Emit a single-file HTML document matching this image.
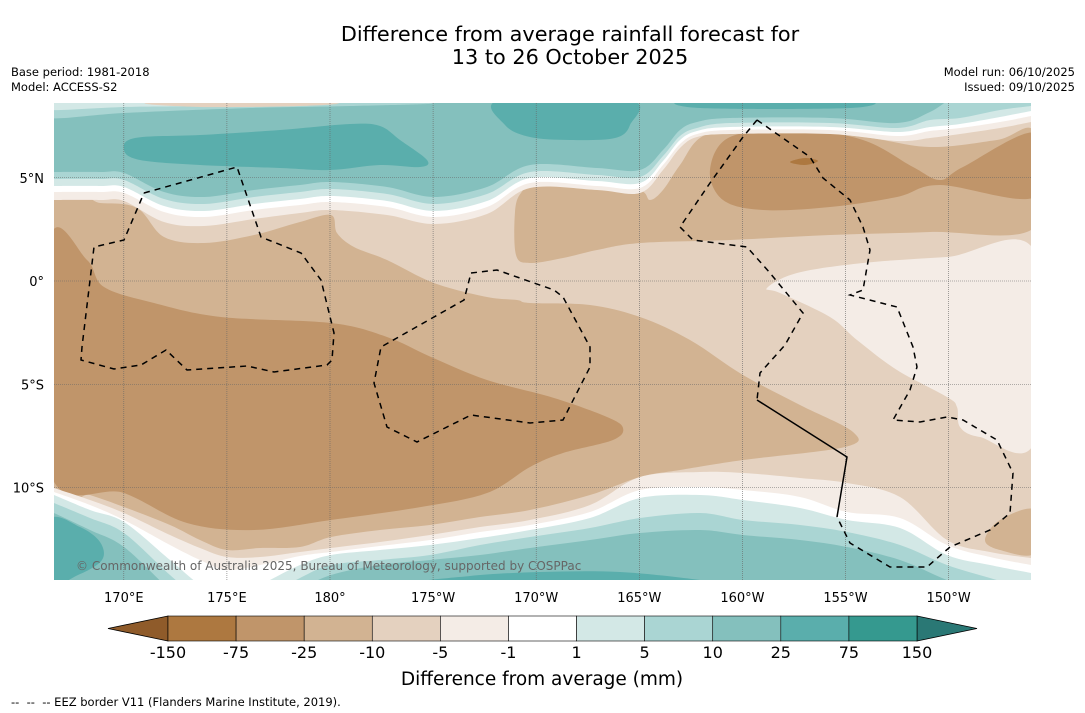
<!DOCTYPE html>
<html><head><meta charset="utf-8"><style>
html,body{margin:0;padding:0;background:#fff;width:1085px;height:713px;overflow:hidden;font-family:"Liberation Sans","DejaVu Sans",sans-serif}
svg text{font-family:"DejaVu Sans","Liberation Sans",sans-serif}
</style></head><body>
<svg id="chart" width="1085" height="713" xmlns="http://www.w3.org/2000/svg">
<rect width="1085" height="713" fill="#fff"/>
<text x="570" y="41" font-size="20.8" text-anchor="middle" fill="#000">Difference from average rainfall forecast for</text>
<text x="570" y="64" font-size="20.8" text-anchor="middle" fill="#000">13 to 26 October 2025</text>
<text x="11" y="76" font-size="11.5">Base period: 1981-2018</text>
<text x="11" y="91" font-size="11.5">Model: ACCESS-S2</text>
<text x="1075" y="76" font-size="11.5" text-anchor="end">Model run: 06/10/2025</text>
<text x="1075" y="91" font-size="11.5" text-anchor="end">Issued: 09/10/2025</text>
<defs><clipPath id="mapclip"><rect x="54" y="103" width="977" height="477"/></clipPath></defs>
<g id="map" clip-path="url(#mapclip)"></g>
<g id="axes"></g>
<g id="cbar"></g>
<text x="542" y="685" font-size="18.5" text-anchor="middle">Difference from average (mm)</text>
<text x="11" y="706" font-size="11.5" style="white-space:pre">--  --  -- EEZ border V11 (Flanders Marine Institute, 2019).</text>
</svg>
<script>
const levels=["-150","-75","-25","-10","-5","-1","1","5","10","25","75","150"];
const bandColors=["#ad7840","#c0956a","#d2b392","#e4d1bf","#f4ece6","#ffffff","#d3e8e6","#aad5d3","#84c0bd","#5aaeac","#35998f"];
const extColors=["#8f5b2a","#2a7875"];
const lonTicks=[170,175,180,-175,-170,-165,-160,-155,-150];
const lonLabels=["170°E","175°E","180°","175°W","170°W","165°W","160°W","155°W","150°W"];
const latTicks=[5,0,-5,-10];
const latLabels=["5°N","0°","5°S","10°S"];
const northXs=[54,100,124,164,204,254,300,331,387,434,487,530,597,640,663,680,697,730,830,897,930,960,1000,1031];
const nTeal=[172,172,173,192,197,190,185,182,187,197,187,165,168,170,150,130,122,118,118,123,112,95,95,95];
const nAqua=[179,179,180,199,204,197,192,189,194,204,194,172,175,177,156,136,128,123,123,128,120,118,110,106];
const nPale=[186,186,187,206,211,204,199,196,201,211,201,178,181,183,161,140,131,127,127,132,127,124,117,111];
const nWhite=[192,192,193,212,217,210,205,202,207,217,207,183,186,188,165,144,134,130,130,136,131,128,122,116];
const nCream=[200,200,201,222,226,219,213,210,215,224,214,188,190,193,170,148,137,134,134,141,138,134,128,122];
const southXs=[54,90,124,170,200,227,260,300,331,380,430,480,530,590,640,700,743,800,847,900,947,990,1031];
const sCream=[488,500,513,535,548,557,557,552,548,542,535,527,520,505,477,472,473,478,483,497,540,552,558];
const sWhite=[492,505,520,545,560,570,565,556,552,546,540,532,525,512,490,487,490,497,512,518,545,557,565];
const sPale=[495,510,522,560,585,600,585,565,555,550,545,538,530,518,498,495,500,508,520,528,555,565,573];
const sAqua=[503,518,533,575,600,620,600,578,565,560,555,545,537,528,518,513,520,525,532,545,565,578,590];
const sTeal=[513,530,547,590,615,640,615,590,575,565,560,555,548,540,533,530,535,540,547,560,580,595,610];

const NS="http://www.w3.org/2000/svg";
const map=document.getElementById('map'),axes=document.getElementById('axes'),cbar=document.getElementById('cbar');
const X0=54,X1=1031,Y0=103,Y1=580;
const lonX=l=>{let e=l<0?360+l:l;return 330+(e-180)*20.62;};
const latY=l=>281-l*20.65;
function mk(tag,attrs,parent){const e=document.createElementNS(NS,tag);for(const k in attrs)e.setAttribute(k,attrs[k]);parent.appendChild(e);return e;}
function smooth(pts,closed){
  const n=pts.length;let d='M'+pts[0][0]+','+pts[0][1];
  const P=i=>closed?pts[(i+n)%n]:pts[Math.max(0,Math.min(n-1,i))];
  const segs=closed?n:n-1;
  for(let i=0;i<segs;i++){const p0=P(i-1),p1=P(i),p2=P(i+1),p3=P(i+2);
    const c1=[p1[0]+(p2[0]-p0[0])/6,p1[1]+(p2[1]-p0[1])/6],c2=[p2[0]-(p3[0]-p1[0])/6,p2[1]-(p3[1]-p1[1])/6];
    d+=`C${c1[0].toFixed(1)},${c1[1].toFixed(1)} ${c2[0].toFixed(1)},${c2[1].toFixed(1)} ${p2[0]},${p2[1]}`;}
  return d+(closed?'Z':'');
}
function region(pts,fill,name){const p=mk('path',{d:smooth(pts,true),fill:fill},map);

return p;}
function topBand(ys,fill,name){const pts=northXs.map((x,i)=>[x,ys[i]]);
 const d=smooth(pts,false)+`L${X1+2},${Y0-5}L${X0-2},${Y0-5}Z`;
 const p=mk('path',{d:'M'+(X0-2)+','+pts[0][1]+'L'+d.slice(1),fill:fill},map);
 
 }
function botBand(ys,fill,name){const pts=southXs.map((x,i)=>[x,ys[i]]);
 const d=smooth(pts,false)+`L${X1+2},${Y1+5}L${X0-2},${Y1+5}Z`;
 const p=mk('path',{d:'M'+(X0-2)+','+pts[0][1]+'L'+d.slice(1),fill:fill},map);
 
 }

const base=mk('rect',{x:X0,y:Y0,width:X1-X0,height:Y1-Y0,fill:bandColors[3]},map);


region([[767,288],[797,273],[863,263],[947,257],[1035,252],[1035,440],[980,437],[960,427],[957,407],[947,397],[897,370],[857,340],[830,317],[780,293]],bandColors[4],'east-light-region');
region([[50,202],[100,203],[137,208],[164,237],[204,243],[254,235],[300,222],[331,215],[337,233],[354,247],[387,260],[434,283],[487,297],[517,300],[530,303],[590,305],[640,317],[690,340],[743,375],[800,405],[853,432],[845,447],[743,460],[680,470],[640,477],[590,495],[530,510],[480,517],[430,525],[380,530],[331,537],[300,547],[260,548],[227,550],[200,540],[170,525],[124,507],[90,495],[50,483]],bandColors[2],'brown-band-main');
region([[515,212],[521,193],[537,183],[597,180],[640,190],[650,200],[663,190],[680,165],[705,135],[763,128],[863,137],[930,147],[997,140],[1035,133],[1035,227],[930,232],[830,235],[730,240],[640,243],[597,250],[563,258],[530,263],[516,255]],bandColors[2],'brown-band-northeast');
region([[50,240],[87,260],[104,287],[154,303],[221,317],[331,323],[387,337],[431,357],[487,380],[554,398],[607,417],[623,428],[613,440],[563,453],[530,467],[487,493],[421,507],[331,520],[254,530],[187,523],[124,493],[50,472]],bandColors[1],'dark-core-southwest');
region([[710,170],[730,137],[797,130],[863,140],[913,167],[940,180],[963,167],[1035,133],[1035,197],[940,185],[897,197],[830,207],[763,210],[723,200]],bandColors[1],'dark-core-northeast');
region([[790,162],[805,158],[818,161],[805,165]],bandColors[0],'darkest-spot');
region([[985,540],[1000,520],[1035,510],[1035,553],[1000,550]],bandColors[2],'brown-patch-southeast');
topBand(nCream,bandColors[4],'north-band-light');
topBand(nWhite,bandColors[5],'north-band-neutral');
topBand(nPale,bandColors[6],'north-band-pale-teal');
topBand(nAqua,bandColors[7],'north-band-aqua');
topBand(nTeal,bandColors[8],'north-band-teal');
region([[50,103],[420,103],[350,106],[250,108],[124,113],[50,118]],bandColors[7],'north-edge-aqua');
region([[50,103],[300,103],[200,106],[124,107],[50,110]],bandColors[6],'north-edge-pale');
region([[150,103],[330,103],[300,106],[200,107]],bandColors[3],'north-edge-brown');
region([[124,150],[135,138],[200,135],[280,130],[350,124],[380,126],[400,140],[427,160],[420,167],[380,165],[330,170],[280,168],[200,165],[140,160]],bandColors[9],'north-blob-teal-west');
region([[500,100],[630,100],[630,125],[615,138],[570,140],[530,137],[505,125]],bandColors[9],'north-blob-teal-central');
region([[690,100],[860,100],[850,108],[700,108]],bandColors[9],'north-strip-teal');
botBand(sCream,bandColors[4],'south-band-light');
botBand(sWhite,bandColors[5],'south-band-neutral');
botBand(sPale,bandColors[6],'south-band-pale-teal');
botBand(sAqua,bandColors[7],'south-band-aqua');
botBand(sTeal,bandColors[8],'south-band-teal');
region([[50,520],[80,527],[100,542],[102,560],[78,575],[50,582]],bandColors[9],'south-blob-teal-west');
region([[430,584],[470,576],[540,572],[620,572],[700,580],[720,586]],bandColors[9],'south-blob-teal-central');

lonTicks.forEach((l,i)=>{const x=lonX(l);
 const g=mk('line',{x1:x,y1:Y0,x2:x,y2:Y1,stroke:'#666','stroke-width':0.6,'stroke-dasharray':'1,1'},map);
 
 
 const t=mk('text',{x:x,y:602,'font-size':13,'text-anchor':'middle'},axes);t.textContent=lonLabels[i];
 
 });
latTicks.forEach((l,i)=>{const y=latY(l);
 const g=mk('line',{x1:X0,y1:y,x2:X1,y2:y,stroke:'#666','stroke-width':0.6,'stroke-dasharray':'1,1'},map);
 
 
 const t=mk('text',{x:44,y:y+5,'font-size':13,'text-anchor':'end'},axes);t.textContent=latLabels[i];
 
 });

function eez(pts,name,dash){const p=mk('path',{d:'M'+pts.map(q=>q.join(',')).join('L'),fill:'none',stroke:'#000','stroke-width':1.5,'stroke-dasharray':dash||'6,5'},map);
 
 }
eez([[144,193],[237,167],[261,237],[301,253],[321,280],[334,333],[332,360],[327,365],[274,372],[247,366],[187,370],[166,350],[141,365],[114,369],[81,360],[82,347],[94,247],[124,240],[144,193]],'eez-border-tuvalu');
eez([[471,273],[497,270],[554,290],[563,297],[590,347],[590,367],[563,420],[530,423],[471,415],[417,442],[387,427],[374,383],[381,347],[464,300],[471,273]],'eez-border-phoenix');
eez([[757,120],[810,157],[823,178],[850,200],[863,227],[870,250],[863,290],[850,295],[897,307],[913,347],[917,367],[910,390],[893,420],[920,422],[947,417],[963,420],[997,440],[1013,473],[1010,513],[990,530],[950,547],[927,567],[890,567],[850,543],[837,517]],'eez-border-line-islands-east');
eez([[757,120],[743,137],[710,183],[680,227],[693,240],[747,247],[770,273],[803,313],[785,345],[760,373],[757,400]],'eez-border-line-islands-north');
eez([[757,400],[847,457],[837,517]],'eez-border-solid','none');

const wm=mk('text',{x:76,y:570,'font-size':12,fill:'#666'},map);
wm.textContent='© Commonwealth of Australia 2025, Bureau of Meteorology, supported by COSPPac';



const cbX0=168,cbX1=917,cbY=616,cbH=25,bw=(cbX1-cbX0)/bandColors.length;
const lt=mk('polygon',{points:`${cbX0},${cbY} 108,${cbY+cbH/2} ${cbX0},${cbY+cbH}`,fill:extColors[0],stroke:'#000','stroke-width':0.8},cbar);


const rt=mk('polygon',{points:`${cbX1},${cbY} 977,${cbY+cbH/2} ${cbX1},${cbY+cbH}`,fill:extColors[1],stroke:'#000','stroke-width':0.8},cbar);


bandColors.forEach((c,i)=>{const r=mk('rect',{x:cbX0+i*bw,y:cbY,width:bw,height:cbH,fill:c,stroke:'#000','stroke-width':0.6},cbar);
 
 });
levels.forEach((v,i)=>{const t=mk('text',{x:cbX0+i*bw,y:658,'font-size':16,'text-anchor':'middle'},cbar);t.textContent=v;
 
 });
</script>
</body></html>
